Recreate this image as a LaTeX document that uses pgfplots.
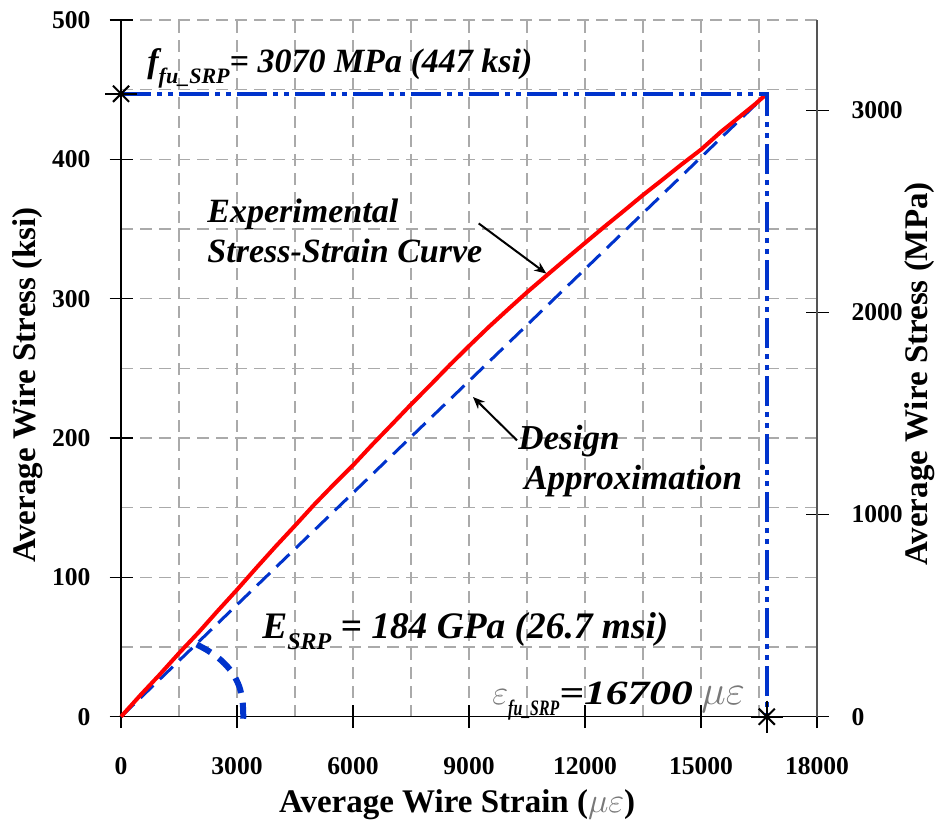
\documentclass[border=0pt]{standalone}
\usepackage{pgfplots}
\pgfplotsset{compat=1.18}
\usepackage{fontspec}
\setmainfont{Liberation Serif}
\usetikzlibrary{arrows.meta}

\definecolor{wireblue}{RGB}{0,51,204}
\definecolor{gridgray}{RGB}{170,170,170}
\definecolor{axisdark}{RGB}{85,85,85}
\definecolor{symgray}{RGB}{120,120,120}

\newcommand{\annfont}{\fontsize{17}{20}\selectfont\bfseries\itshape}
\newcommand{\subfont}{\fontsize{11}{12}\selectfont\bfseries\itshape}
\newcommand{\labfont}{\fontsize{16.5}{18}\selectfont\bfseries}
\newcommand{\tickfont}{\fontsize{12.8}{14}\selectfont\bfseries}

\pgfplotsset{
  wireaxis/.style={
    width=348pt, height=348.35pt, scale only axis,
    xmin=0, xmax=18000,
    major tick length=11.5pt, tick align=outside,
    tick style={black, line width=0.65pt},
    ticklabel style={font=\tickfont},
    scaled ticks=false,
    /pgf/number format/assume math mode=true,
    /pgf/number format/1000 sep={},
    label style={font=\labfont},
  },
  gridline/.style={gridgray, line width=0.55pt, dash pattern=on 6pt off 3.5pt},
}

\begin{document}
\begin{tikzpicture}
% stress in ksi against strain
\begin{axis}[
  wireaxis,
  ymin=0, ymax=500,
  axis x line=bottom, axis y line=left,
  axis line style={-, black, line width=0.7pt},
  every outer x axis line/.append style={-},
  every outer y axis line/.append style={-},
  xtick={0,3000,...,18000}, ytick={0,100,...,500},
  minor x tick num=1, minor y tick num=1, minor tick length=0pt,
  grid=both, major grid style={gridline}, minor grid style={gridline},
  xticklabel style={yshift=-11pt},
  yticklabel style={xshift=-6pt},
  clip=false,
  xlabel={\labfont Average Wire Strain (\textcolor{symgray}{$\mu\varepsilon$})},
  ylabel={\labfont Average Wire Stress (ksi)},
  xlabel style={at={(axis description cs:0.483,-0.137)}, anchor=base},
  ylabel style={at={(axis description cs:-0.1336,0.476)}, anchor=center},
]
% linear design approximation, E = 26.7 msi
\addplot[wireblue, line width=1.5pt, dash pattern=on 9pt off 4.5pt]
  coordinates {(0,0) (16700,447)};
% measured stress-strain response
\addplot[red, line width=2pt] coordinates {
  (0,0) (500,15.4) (1000,30.2) (1500,45.6) (2000,60.3) (2500,75.9)
  (3000,91.1) (3500,106.8) (4000,122.2) (4500,137.1) (5000,152.3)
  (5500,166.6) (6000,180.4) (6500,195.3) (7000,209.6) (7500,224.1)
  (8000,238.0) (8500,252.3) (9000,266.0) (9500,279.4) (10000,292.1)
  (10500,304.6) (11000,316.5) (11500,328.3) (12000,340.0) (12500,351.6)
  (13000,362.9) (13500,374.4) (14000,385.3) (14500,396.4) (15000,407.0)
  (15300,414.4) (15500,419.4) (16000,430.6) (16400,439.6) (16700,447)
};
% ultimate stress and strain guides
\addplot[wireblue, line width=2pt,
  dash pattern=on 15pt off 3pt on 2.5pt off 3pt on 2.5pt off 3pt]
  coordinates {(0,447) (16700,447) (16700,0)};
% modulus arc
\addplot[wireblue, line width=3pt, dash pattern=on 8pt off 5pt, smooth]
  coordinates {(1958,51.8) (2258,47.2) (2600,40.2) (2880,31.5)
               (3060,21.5) (3140,11.5) (3160,3) (3160,-2.5)};
% end points
\addplot[only marks, mark=+, mark size=8pt, black, line width=1pt]
  coordinates {(0,447) (16700,0)};
\addplot[only marks, mark=x, mark size=5.7pt, black, line width=1pt]
  coordinates {(0,447) (16700,0)};

\node[anchor=base west, inner sep=0pt] at (axis cs:672,462.6)
  {\annfont f\raisebox{-0.35em}{\subfont fu\_SRP}= 3070 MPa (447 ksi)};
\node[anchor=base west, inner sep=0pt] at (axis cs:2224,355)
  {\annfont Experimental};
\node[anchor=base west, inner sep=0pt] at (axis cs:2224,326.3)
  {\annfont Stress-Strain Curve};
\node[anchor=base west, inner sep=0pt] at (axis cs:10266,191.4)
  {\annfont\fontsize{17.5}{20}\selectfont Design};
\node[anchor=base west, inner sep=0pt] at (axis cs:10421,162.7)
  {\annfont\fontsize{17.5}{20}\selectfont Approximation};
\node[anchor=base west, inner sep=0pt] at (axis cs:3646,56.3)
  {\annfont\fontsize{18.7}{21}\selectfont E\raisebox{-0.3em}{\subfont\fontsize{12}{13}\selectfont SRP} = 184 GPa (26.7 msi)};
\node[anchor=base west, inner sep=0pt] at (axis cs:9594,8.4)
  {\annfont\textcolor{symgray}{$\varepsilon$}\raisebox{-0.3em}{\scalebox{0.72}[1]{\subfont fu\_SRP}}\scalebox{1.28}[1]{=16700} \textcolor{symgray}{\fontsize{22}{24}\selectfont$\mu\varepsilon$}};

\draw[black, line width=1pt, -{Stealth[length=6pt, width=5pt]}]
  (axis cs:9250,354) -- (axis cs:11000,318);
\draw[black, line width=1pt, -{Stealth[length=6pt, width=5pt]}]
  (axis cs:10241,198.3) -- (axis cs:9103,229.4);

\coordinate (bbll) at (axis description cs:-0.1739,-0.1569);
\coordinate (bbur) at (axis description cs:1.1796,1.0287);
\end{axis}

% same stress in MPa
\begin{axis}[
  wireaxis,
  ymin=0, ymax=3447.38,
  hide x axis, axis y line=right,
  axis line style={-, axisdark, line width=1.3pt},
  every outer y axis line/.append style={-},
  ytick={0,1000,2000,3000},
  yticklabel style={xshift=8pt},
  ylabel={\labfont Average Wire Stress (MPa)},
  ylabel style={at={(axis description cs:1.148,0.492)}, anchor=center},
]
\addplot[draw=none] coordinates {(0,0) (18000,3447.38)};
\end{axis}

\path (bbll) rectangle (bbur);
\end{tikzpicture}
\end{document}
